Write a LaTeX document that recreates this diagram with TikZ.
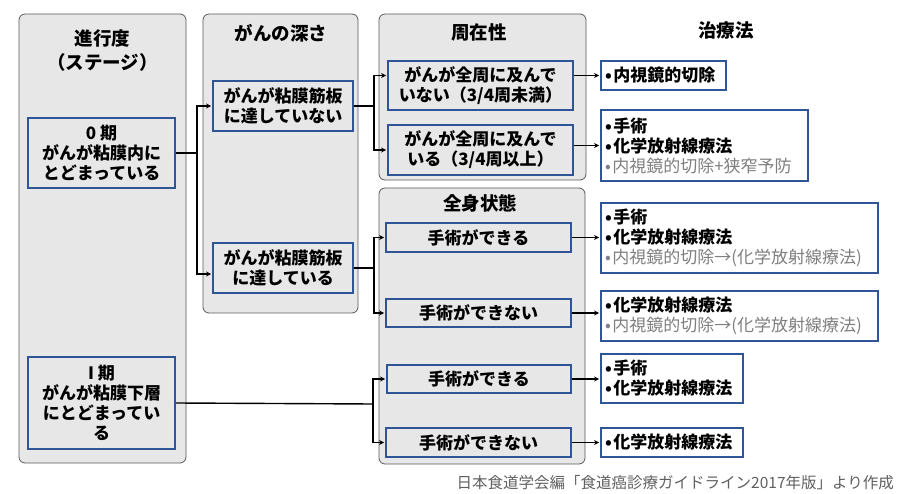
\documentclass[tikz,border=0pt]{standalone}
\usepackage{fontspec}
\setmainfont{Noto Sans CJK JP}
\usetikzlibrary{arrows.meta,calc}
\definecolor{bl}{RGB}{47,85,151}
\definecolor{pf}{RGB}{231,231,231}
\definecolor{pd}{RGB}{90,90,90}
\definecolor{gt}{RGB}{127,127,127}
\definecolor{ft}{RGB}{96,96,96}
\newcommand{\gl}[1]{{\mdseries\color{gt}#1}}
\newcommand{\bu}{•\kern1.5pt}
\begin{document}
\begin{tikzpicture}[x=1pt,y=-1pt,
 panel/.style={draw=pd, fill=pf, line width=0.8pt, rounded corners=6pt, inner sep=0pt},
 bbox/.style={draw=bl, line width=1.8pt, inner sep=0pt, align=center, font=\bfseries\fontsize{17}{20}\selectfont},
 tbox/.style={draw=bl, line width=1.8pt, fill=white, inner xsep=4pt, inner ysep=0pt, align=left, font=\bfseries\fontsize{17}{20}\selectfont},
 ttl/.style={font=\bfseries\fontsize{18.5}{24}\selectfont, align=center, inner sep=0pt},
 conn/.style={line width=1.4pt, black},
 arr/.style={conn, -{Stealth[length=5pt,width=5pt]}, shorten >=1pt}
]
\path[use as bounding box] (0,0) rectangle (900,494);
% panels
\node[panel, minimum width=167pt, minimum height=449pt] (p1) at (102.5,238.5) {};
\node[panel, minimum width=155pt, minimum height=299pt] (p2) at (280.5,163.5) {};
\node[panel, minimum width=207pt, minimum height=166pt] (p3) at (482.5,97) {};
\node[panel, minimum width=206pt, minimum height=276pt] (p4) at (482,326) {};
% titles
\node[ttl] (h1) at (102.5,51) {進行度\\（ステージ）};
\node[ttl] (h2) at (281,33) {がんの深さ};
\node[ttl] (h3) at (479,33) {周在性};
\node[ttl] (h4) at (726,30) {治療法};
\node[ttl] (h5) at (480,203) {全身状態};
% stage boxes
\node[bbox, minimum width=147pt, minimum height=70pt] (z0) at (101.5,153) {0 期\\がんが粘膜内に\\とどまっている};
\node[bbox, minimum width=147pt, minimum height=92pt] (z1) at (101.5,403) {I 期\\がんが粘膜下層\\にとどまってい\\る};
% depth boxes
\node[bbox, minimum width=140pt, minimum height=50pt] (d1) at (283,106) {がんが粘膜筋板\\に達していない};
\node[bbox, minimum width=140pt, minimum height=50pt] (d2) at (283,268) {がんが粘膜筋板\\に達している};
% circumference boxes
\node[bbox, minimum width=185pt, minimum height=49pt] (s1) at (480.5,85.5) {がんが全周に及んで\\いない（3/4周未満）};
\node[bbox, minimum width=185pt, minimum height=50pt] (s2) at (480.5,150) {がんが全周に及んで\\いる（3/4周以上）};
% general condition boxes
\node[bbox, minimum width=185pt, minimum height=29pt] (g1) at (478.5,237.5) {手術ができる};
\node[bbox, minimum width=185pt, minimum height=28pt] (g2) at (478.5,313) {手術ができない};
\node[bbox, minimum width=184pt, minimum height=28pt] (g3) at (479,379) {手術ができる};
\node[bbox, minimum width=185pt, minimum height=29pt] (g4) at (478.5,442.5) {手術ができない};
% treatment boxes
\node[tbox, text width=117pt, minimum height=29pt] (t1) at (663.5,75.5) {\bu 内視鏡的切除};
\node[tbox, text width=199pt, minimum height=71pt] (t2) at (704.5,145.5) {\bu 手術\\\bu 化学放射線療法\\\gl{\bu 内視鏡的切除+狭窄予防}};
\node[tbox, text width=269pt, minimum height=70pt] (t3) at (739.5,238) {\bu 手術\\\bu 化学放射線療法\\\gl{\bu 内視鏡的切除→(化学放射線療法)}};
\node[tbox, text width=269pt, minimum height=50pt] (t4) at (739.5,316) {\bu 化学放射線療法\\\gl{\bu 内視鏡的切除→(化学放射線療法)}};
\node[tbox, text width=134pt, minimum height=49pt] (t5) at (672,378.5) {\bu 手術\\\bu 化学放射線療法};
\node[tbox, text width=134pt, minimum height=29pt] (t6) at (672,442.5) {\bu 化学放射線療法};
% junctions
\coordinate (j0) at (197,153);
\coordinate (j1) at (374,106);
\coordinate (j2) at (374,268);
\coordinate (j3) at (373,404);
% connectors
\draw[conn] (z0.east) -- (j0);
\draw[arr] (j0) |- (d1.west);
\draw[arr] (j0) |- ([yshift=-6pt]d2.west);
\draw[conn] (d1.east) -- (j1);
\draw[arr] (j1) |- (s1.west |- t1.west);
\draw[arr] (j1) |- (s2.west);
\draw[conn] (d2.east) -- (j2);
\draw[arr] (j2) |- (g1.west);
\draw[arr] (j2) |- (g2.west);
\draw[conn] (z1.east) -- (j3);
\draw[arr] (j3) |- (g3.west);
\draw[arr] (j3) |- (g4.west);
\draw[arr] (s1.east |- t1.west) -- (t1.west);
\draw[arr] (s2.east |- t2.west) -- (t2.west);
\draw[arr] (g1.east) -- (g1.east -| t3.west);
\draw[arr] (g2.east) -- (g2.east -| t4.west);
\draw[arr] (g3.east) -- (g3.east -| t5.west);
\draw[arr] (g4.east) -- (g4.east -| t6.west);
% source
\node[font=\fontsize{15.5}{18}\selectfont, text=ft, anchor=east, inner sep=0pt] (src) at (894,483) {日本食道学会編「食道癌診療ガイドライン2017年版」より作成};
\end{tikzpicture}
\end{document}
